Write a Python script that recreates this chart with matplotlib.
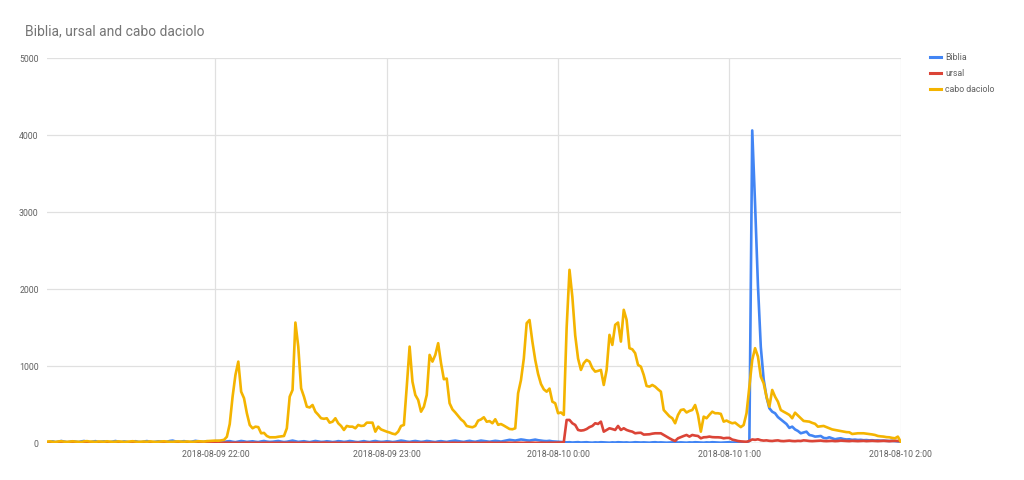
import matplotlib
matplotlib.use("Agg")
import matplotlib.pyplot as plt
from matplotlib.lines import Line2D
import numpy as np

plt.rcParams['font.family'] = ['Roboto', 'DejaVu Sans']

title = "Biblia, ursal and cabo daciolo"
series_names = ["Biblia", "ursal", "cabo daciolo"]
series_colors = ["#4285F4", "#DB4437", "#F4B400"]

# minutes after 2018-08-09 21:00, one point per minute (21:01 .. 02:00)
minutes = list(range(1, 301))
x_tick_minutes = [60, 120, 180, 240, 300]
x_tick_labels = ["2018-08-09 22:00", "2018-08-09 23:00", "2018-08-10 0:00",
                 "2018-08-10 1:00", "2018-08-10 2:00"]
y_ticks = [0, 1000, 2000, 3000, 4000, 5000]

biblia = [
    12, 18, 25, 15, 20, 30, 22, 14, 18, 26,
    20, 15, 24, 30, 18, 12, 22, 28, 16, 20,
    25, 18, 14, 22, 30, 20, 16, 24, 19, 13,
    21, 27, 18, 15, 23, 29, 20, 14, 19, 25,
    22, 16, 20, 30, 35, 24, 18, 22, 28, 20,
    15, 24, 32, 26, 18, 20, 27, 22, 16, 25,
    30, 22, 18, 24, 28, 20, 15, 22, 30, 25,
    18, 22, 26, 20, 16, 24, 30, 22, 18, 20,
    25, 30, 22, 16, 20, 28, 35, 26, 18, 22,
    27, 20, 15, 22, 30, 24, 18, 20, 26, 22,
    16, 20, 28, 24, 18, 22, 30, 25, 18, 15,
    22, 28, 20, 16, 24, 30, 22, 18, 20, 26,
    22, 16, 20, 28, 35, 30, 22, 18, 25, 30,
    24, 18, 22, 30, 26, 20, 16, 24, 28, 22,
    18, 25, 30, 35, 28, 22, 18, 26, 32, 24,
    20, 28, 35, 30, 24, 20, 26, 32, 28, 22,
    30, 38, 45, 40, 35, 42, 50, 45, 38, 35,
    42, 48, 40, 35, 30, 28, 32, 25, 22, 20,
    18, 15, 12, 14, 10, 12, 15, 10, 12, 14,
    10, 8, 12, 10, 14, 12, 10, 8, 12, 10,
    14, 12, 10, 12, 8, 10, 14, 12, 10, 12,
    10, 8, 12, 14, 10, 12, 10, 8, 10, 12,
    14, 10, 12, 10, 8, 12, 10, 14, 12, 10,
    8, 12, 10, 14, 12, 10, 8, 10, 12, 14,
    10, 12, 8, 10, 12, 14, 30, 4060, 3100, 2050,
    1250, 830, 600, 455, 410, 390, 340, 310, 280, 250,
    200, 216, 180, 160, 130, 140, 151, 108, 100, 87,
    90, 95, 70, 65, 78, 65, 52, 60, 65, 55,
    50, 52, 45, 48, 43, 45, 40, 42, 38, 40,
    36, 38, 34, 35, 32, 30, 32, 28, 25, 22,
]

ursal = [
    5, 6, 4, 5, 7, 5, 4, 6, 5, 5,
    6, 4, 5, 7, 6, 5, 4, 5, 6, 5,
    4, 6, 5, 5, 7, 5, 4, 6, 5, 6,
    5, 4, 6, 5, 5, 7, 6, 4, 5, 6,
    5, 6, 4, 5, 7, 5, 6, 4, 5, 6,
    5, 4, 6, 7, 5, 5, 6, 4, 5, 6,
    7, 5, 6, 8, 6, 5, 7, 6, 5, 6,
    8, 6, 5, 7, 6, 5, 6, 7, 5, 6,
    5, 6, 7, 6, 5, 8, 7, 6, 5, 6,
    7, 6, 5, 6, 7, 5, 6, 8, 6, 5,
    6, 7, 5, 6, 5, 7, 6, 5, 6, 7,
    5, 6, 7, 6, 5, 6, 7, 5, 6, 6,
    7, 5, 6, 8, 7, 6, 5, 6, 7, 6,
    5, 6, 7, 5, 6, 7, 6, 5, 6, 7,
    6, 5, 7, 6, 5, 6, 7, 6, 5, 6,
    7, 6, 5, 6, 7, 8, 6, 5, 6, 7,
    6, 7, 8, 6, 7, 8, 7, 6, 8, 7,
    8, 7, 6, 8, 7, 6, 8, 7, 8, 9,
    10, 15, 303, 303, 260, 238, 173, 165, 170, 185,
    210, 225, 260, 251, 281, 151, 173, 195, 185, 173,
    225, 173, 195, 173, 160, 151, 130, 135, 137, 113,
    115, 117, 125, 130, 130, 130, 108, 85, 65, 45,
    30, 65, 80, 95, 108, 87, 108, 100, 95, 65,
    78, 80, 87, 80, 78, 78, 75, 65, 70, 70,
    48, 40, 30, 25, 22, 20, 30, 50, 45, 52,
    40, 35, 38, 32, 30, 35, 38, 30, 28, 32,
    35, 30, 28, 32, 30, 38, 35, 30, 28, 30,
    32, 35, 30, 28, 30, 32, 28, 30, 35, 32,
    30, 28, 32, 30, 28, 30, 32, 28, 30, 32,
    30, 28, 30, 32, 30, 28, 30, 32, 30, 28,
]

cabo_daciolo = [
    22, 25, 20, 18, 24, 27, 21, 19, 23, 26,
    22, 20, 18, 25, 28, 23, 21, 19, 24, 22,
    20, 26, 23, 19, 21, 25, 22, 18, 20, 24,
    27, 22, 19, 21, 23, 20, 25, 22, 18, 21,
    24, 26, 22, 20, 19, 23, 25, 21, 20, 24,
    22, 19, 23, 27, 25, 22, 28, 30, 32, 35,
    33, 38, 45, 85, 250, 605, 887, 1060, 670, 585,
    390, 238, 195, 216, 210, 130, 135, 95, 78, 78,
    78, 85, 90, 95, 195, 605, 692, 1567, 1255, 714,
    605, 475, 465, 497, 410, 370, 325, 318, 325, 268,
    280, 325, 260, 225, 173, 225, 216, 216, 195, 238,
    225, 229, 268, 268, 268, 151, 216, 180, 165, 151,
    140, 125, 117, 151, 225, 238, 735, 1255, 800, 627,
    562, 410, 475, 627, 1147, 1060, 1147, 1299, 1040, 831,
    840, 520, 440, 400, 355, 310, 280, 225, 215, 208,
    225, 294, 310, 338, 280, 288, 260, 312, 240, 250,
    230, 208, 186, 182, 195, 650, 820, 1100, 1559, 1600,
    1320, 1082, 900, 770, 700, 670, 710, 540, 520, 390,
    400, 368, 1500, 2251, 1900, 1400, 1100, 952, 1040, 1082,
    1060, 975, 930, 940, 952, 757, 952, 1407, 1277, 1537,
    1567, 1320, 1732, 1602, 1234, 1220, 1169, 1017, 995, 887,
    744, 735, 757, 735, 700, 670, 432, 390, 350, 325,
    260, 368, 432, 440, 400, 420, 432, 497, 368, 151,
    346, 325, 370, 410, 390, 390, 382, 281, 295, 275,
    260, 268, 238, 210, 237, 390, 735, 1082, 1234, 1125,
    865, 779, 605, 475, 692, 605, 540, 432, 410, 390,
    368, 325, 397, 360, 325, 290, 285, 281, 265, 253,
    216, 220, 225, 210, 195, 180, 173, 165, 160, 151,
    145, 143, 121, 125, 130, 130, 130, 125, 121, 115,
    108, 95, 90, 87, 80, 78, 70, 65, 87, 20,
]

W, H = 1024, 480
fig = plt.figure(figsize=(W / 100, H / 100), dpi=100)
left, right, bottom, top = 47, 900.7, 443.3, 58
ax = fig.add_axes([left / W, 1 - bottom / H, (right - left) / W, (bottom - top) / H])

for name, vals, col in zip(series_names, [biblia, ursal, cabo_daciolo], series_colors):
    ax.plot(minutes, vals, color=col, lw=1.9, solid_joinstyle='round', zorder=3)

ax.set_xlim(1, 300)
ax.set_ylim(0, 5000)
ax.set_yticks(y_ticks)
ax.set_yticklabels([str(v) for v in y_ticks])
ax.set_xticks(x_tick_minutes)
ax.set_xticklabels(x_tick_labels)
for s in ax.spines.values():
    s.set_visible(False)
ax.tick_params(length=0, labelsize=6.3, labelcolor='#616161')
ax.tick_params(axis='x', pad=5)
ax.tick_params(axis='y', pad=6)
ax.grid(True, color='#e0e0e0', lw=0.9, zorder=0)
ax.axhline(0, color='#cccccc', lw=1.0, zorder=1)
ax.set_axisbelow(True)

fig.text(25 / W, 1 - 31 / H, title, fontsize=10.0, color='#757575', va='center', ha='left')

for i, (name, col) in enumerate(zip(series_names, series_colors)):
    yy = 1 - (57 + 16 * i) / H
    fig.add_artist(Line2D([930 / W, 941 / W], [yy, yy], color=col, lw=2.2))
    fig.text(945 / W, yy, name, fontsize=6.3, color='#616161', va='center', ha='left')

fig.savefig("out.png", dpi=100, facecolor='white')
